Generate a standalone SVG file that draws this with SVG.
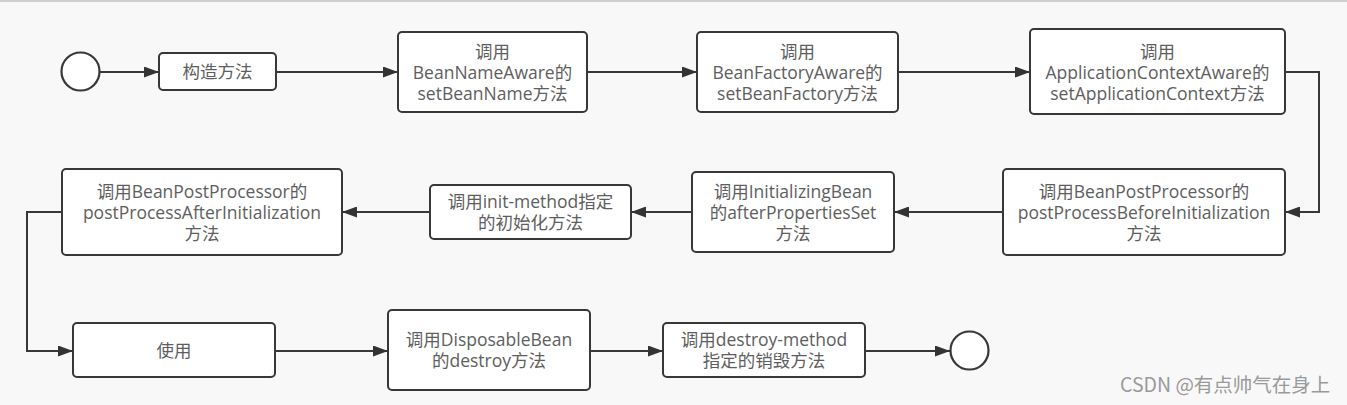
<svg xmlns="http://www.w3.org/2000/svg" width="1347" height="405" viewBox="0 0 1347 405">
<defs>
<style>
.bg{fill:#f8f8f8}
.box{fill:#ffffff;stroke:#383838;stroke-width:2}
.circ{fill:#ffffff;stroke:#383838;stroke-width:2.2}
.t{font-family:"Open Sans","Noto Sans CJK SC",sans-serif;font-size:17.5px;fill:#5e5e5e;text-anchor:middle}
.edge{fill:none;stroke:#383838;stroke-width:2}
.wm{font-family:"Noto Sans CJK SC","Noto Sans",sans-serif;font-size:19.5px;fill:#9a9a9a}
</style>
<marker id="arr" viewBox="0 0 15 11" refX="15" refY="5.5" markerWidth="15" markerHeight="11" markerUnits="userSpaceOnUse" orient="auto">
<path d="M0,0 L15,5.5 L0,11 z" fill="#333333"/>
</marker>
</defs>
<rect class="bg" x="0" y="0" width="1347" height="405"/>
<line x1="0" y1="1" x2="1347" y2="1" stroke="#cfcfcf" stroke-width="2"/>

<g id="connectors">
<path class="edge" marker-end="url(#arr)" d="M100,72 L159,72"/>
<path class="edge" marker-end="url(#arr)" d="M276,72 L398,72"/>
<path class="edge" marker-end="url(#arr)" d="M587,72 L697,72"/>
<path class="edge" marker-end="url(#arr)" d="M898,72 L1030,72"/>
<path class="edge" marker-end="url(#arr)" d="M1285,72 L1319,72 L1319,212 L1285,212"/>
<path class="edge" marker-end="url(#arr)" d="M1003,212 L894,212"/>
<path class="edge" marker-end="url(#arr)" d="M692,212 L631,212"/>
<path class="edge" marker-end="url(#arr)" d="M430,212 L342,212"/>
<path class="edge" marker-end="url(#arr)" d="M62,212 L27,212 L27,351 L73,351"/>
<path class="edge" marker-end="url(#arr)" d="M275,351 L388,351"/>
<path class="edge" marker-end="url(#arr)" d="M590,351 L663,351"/>
<path class="edge" marker-end="url(#arr)" d="M865,351 L950,351"/>
</g>

<g id="start">
<circle class="circ" cx="80.5" cy="71.5" r="19"/>
</g>

<g id="n1">
<rect class="box" x="159" y="53" width="117" height="37" rx="4"/>
<text class="t" x="217.5" y="78">构造方法</text>
</g>

<g id="n2">
<rect class="box" x="398" y="32" width="189" height="80" rx="4"/>
<text class="t" x="492.5" y="58">调用</text>
<text class="t" x="492.5" y="79">BeanNameAware的</text>
<text class="t" x="492.5" y="100">setBeanName方法</text>
</g>

<g id="n3">
<rect class="box" x="697" y="32" width="201" height="80" rx="4"/>
<text class="t" x="797.5" y="58">调用</text>
<text class="t" x="797.5" y="79">BeanFactoryAware的</text>
<text class="t" x="797.5" y="100">setBeanFactory方法</text>
</g>

<g id="n4">
<rect class="box" x="1030" y="29" width="255" height="85" rx="4"/>
<text class="t" x="1157.5" y="57.5">调用</text>
<text class="t" x="1157.5" y="78.5">ApplicationContextAware的</text>
<text class="t" x="1157.5" y="99.5">setApplicationContext方法</text>
</g>

<g id="n5">
<rect class="box" x="1003" y="169" width="282" height="86" rx="4"/>
<text class="t" x="1144" y="197.5">调用BeanPostProcessor的</text>
<text class="t" x="1144" y="218.5">postProcessBeforeInitialization</text>
<text class="t" x="1144" y="239.5">方法</text>
</g>

<g id="n6">
<rect class="box" x="692" y="172" width="202" height="80" rx="4"/>
<text class="t" x="793" y="197.5">调用InitializingBean</text>
<text class="t" x="793" y="218.5">的afterPropertiesSet</text>
<text class="t" x="793" y="239.5">方法</text>
</g>

<g id="n7">
<rect class="box" x="430" y="185" width="201" height="54" rx="4"/>
<text class="t" x="530.5" y="208">调用init-method指定</text>
<text class="t" x="530.5" y="229">的初始化方法</text>
</g>

<g id="n8">
<rect class="box" x="62" y="169" width="280" height="86" rx="4"/>
<text class="t" x="202" y="197.5">调用BeanPostProcessor的</text>
<text class="t" x="202" y="218.5">postProcessAfterInitialization</text>
<text class="t" x="202" y="239.5">方法</text>
</g>

<g id="n9">
<rect class="box" x="73" y="323" width="202" height="54" rx="4"/>
<text class="t" x="174" y="356.5">使用</text>
</g>

<g id="n10">
<rect class="box" x="388" y="310" width="202" height="80" rx="4"/>
<text class="t" x="489" y="346">调用DisposableBean</text>
<text class="t" x="489" y="367">的destroy方法</text>
</g>

<g id="n11">
<rect class="box" x="663" y="323" width="202" height="54" rx="4"/>
<text class="t" x="764" y="346">调用destroy-method</text>
<text class="t" x="764" y="367">指定的销毁方法</text>
</g>

<g id="end">
<circle class="circ" cx="969.5" cy="350.5" r="19"/>
</g>

<text class="wm" x="1120" y="392">CSDN @有点帅气在身上</text>
</svg>
